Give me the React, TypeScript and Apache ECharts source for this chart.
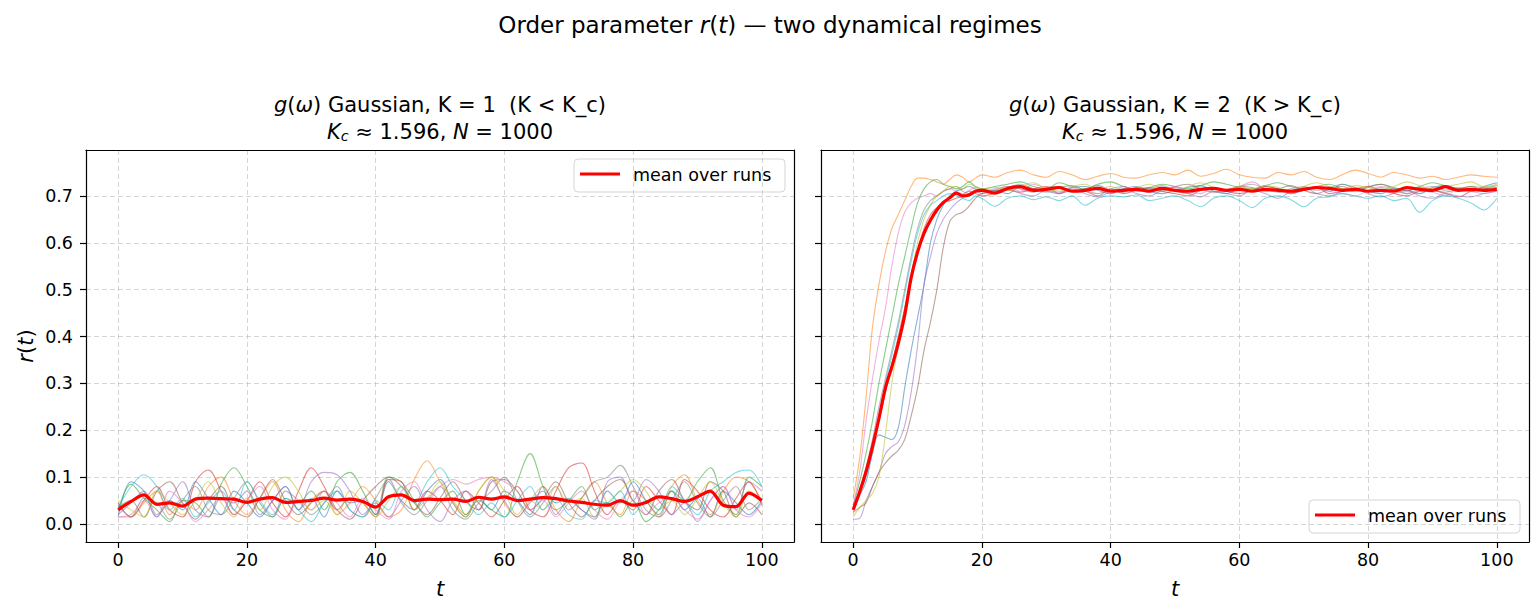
import React, { useEffect, useRef } from 'react';
import * as echarts from 'echarts';

// ---------- Data ----------
const T_LEFT = [0, 2, 4, 6, 8, 10, 12, 14, 16, 18, 20, 22, 24, 26, 28, 30, 32, 34, 36, 38, 40, 42, 44, 46, 48, 50,
  52, 54, 56, 58, 60, 62, 64, 66, 68, 70, 72, 74, 76, 78, 80, 82, 84, 86, 88, 90, 92, 94, 96, 98, 100];

const T_RIGHT = [0, 1, 2, 3, 4, 5, 6, 7, 8, 9, 10, 11, 12, 13, 14, 15, 16, 17, 18, 19, 20,
  22, 24, 26, 28, 30, 32, 34, 36, 38, 40, 42, 44, 46, 48, 50, 52, 54, 56, 58, 60,
  62, 64, 66, 68, 70, 72, 74, 76, 78, 80, 82, 84, 86, 88, 90, 92, 94, 96, 98, 100];

const RUN_COLORS = ['#1f77b4', '#ff7f0e', '#2ca02c', '#d62728', '#9467bd', '#8c564b', '#e377c2', '#7f7f7f', '#bcbd22', '#17becf'];

// K = 1 (left panel), 10 runs, t = 0..100 step 2
const L_BLUE = [0.015, 0.09, 0.07, 0.015, 0.05, 0.03, 0.09, 0.055, 0.02, 0.07,
  0.045, 0.015, 0.05, 0.08, 0.03, 0.055, 0.015, 0.07, 0.045, 0.05,
  0.02, 0.09, 0.05, 0.03, 0.07, 0.095, 0.045, 0.015, 0.055, 0.03,
  0.07, 0.05, 0.02, 0.08, 0.045, 0.055, 0.03, 0.015, 0.07, 0.045,
  0.09, 0.05, 0.02, 0.07, 0.03, 0.055, 0.015, 0.07, 0.045, 0.02, 0.05];
const L_ORANGE = [0.015, 0.015, 0.045, 0.07, 0.02, 0.05, 0.03, 0.08, 0.1, 0.05,
  0.02, 0.055, 0.09, 0.03, 0.005, 0.05, 0.07, 0.02, 0.045, 0.08,
  0.05, 0.015, 0.03, 0.095, 0.135, 0.09, 0.05, 0.02, 0.07, 0.1,
  0.045, 0.015, 0.05, 0.08, 0.03, 0.005, 0.055, 0.09, 0.045, 0.02,
  0.07, 0.05, 0.015, 0.08, 0.105, 0.05, 0.02, 0.07, 0.1, 0.09, 0.05];
const L_GREEN = [0.03, 0.085, 0.055, 0.03, 0.005, 0.05, 0.045, 0.015, 0.085, 0.12,
  0.08, 0.03, 0.015, 0.055, 0.045, 0.07, 0.03, 0.09, 0.11, 0.07,
  0.02, 0.1, 0.09, 0.05, 0.015, 0.045, 0.07, 0.02, 0.05, 0.03,
  0.015, 0.09, 0.15, 0.08, 0.03, 0.05, 0.08, 0.03, 0.045, 0.015,
  0.05, 0.005, 0.03, 0.07, 0.05, 0.09, 0.12, 0.05, 0.02, 0.1, 0.08];
const L_RED = [0.045, 0.015, 0.05, 0.08, 0.03, 0.015, 0.09, 0.115, 0.07, 0.02,
  0.05, 0.09, 0.045, 0.015, 0.07, 0.12, 0.08, 0.03, 0.055, 0.045,
  0.015, 0.095, 0.09, 0.03, 0.07, 0.05, 0.02, 0.07, 0.045, 0.015,
  0.05, 0.08, 0.03, 0.015, 0.07, 0.12, 0.13, 0.07, 0.02, 0.05,
  0.03, 0.08, 0.05, 0.02, 0.095, 0.07, 0.03, 0.015, 0.055, 0.09, 0.04];
const L_PURPLE = [0.02, 0.045, 0.07, 0.02, 0.05, 0.09, 0.03, 0.015, 0.055, 0.045,
  0.07, 0.02, 0.05, 0.08, 0.03, 0.09, 0.11, 0.105, 0.07, 0.02,
  0.045, 0.015, 0.05, 0.08, 0.03, 0.005, 0.05, 0.07, 0.03, 0.095,
  0.05, 0.015, 0.045, 0.07, 0.02, 0.05, 0.03, 0.01, 0.09, 0.1,
  0.05, 0.095, 0.07, 0.02, 0.045, 0.005, 0.05, 0.08, 0.03, 0.09, 0.07];
const L_BROWN = [0.035, 0.05, 0.015, 0.07, 0.09, 0.045, 0.01, 0.05, 0.08, 0.03,
  0.015, 0.055, 0.095, 0.05, 0.02, 0.045, 0.07, 0.03, 0.01, 0.05,
  0.08, 0.1, 0.08, 0.045, 0.02, 0.055, 0.09, 0.05, 0.03, 0.09,
  0.095, 0.07, 0.03, 0.055, 0.09, 0.045, 0.015, 0.05, 0.08, 0.095,
  0.05, 0.02, 0.07, 0.095, 0.05, 0.03, 0.09, 0.07, 0.015, 0.045, 0.02];
const L_PINK = [0.015, 0.02, 0.05, 0.015, 0.07, 0.045, 0.005, 0.03, 0.055, 0.02,
  0.05, 0.08, 0.03, 0.01, 0.05, 0.03, 0.07, 0.045, 0.015, 0.055,
  0.03, 0.01, 0.07, 0.09, 0.05, 0.08, 0.095, 0.085, 0.095, 0.1,
  0.09, 0.07, 0.03, 0.05, 0.015, 0.045, 0.07, 0.03, 0.01, 0.05,
  0.07, 0.02, 0.045, 0.055, 0.03, 0.01, 0.05, 0.08, 0.03, 0.015, 0.045];
const L_GREY = [0.04, 0.015, 0.055, 0.045, 0.01, 0.05, 0.08, 0.03, 0.02, 0.055,
  0.09, 0.045, 0.015, 0.07, 0.05, 0.02, 0.045, 0.08, 0.03, 0.015,
  0.055, 0.095, 0.045, 0.02, 0.05, 0.08, 0.03, 0.01, 0.045, 0.07,
  0.1, 0.05, 0.015, 0.045, 0.08, 0.03, 0.055, 0.09, 0.1, 0.125,
  0.08, 0.03, 0.015, 0.05, 0.09, 0.045, 0.015, 0.05, 0.08, 0.03, 0.055];
const L_OLIVE = [0.05, 0.03, 0.015, 0.07, 0.045, 0.02, 0.05, 0.09, 0.045, 0.015,
  0.055, 0.03, 0.08, 0.1, 0.07, 0.03, 0.05, 0.02, 0.07, 0.045,
  0.015, 0.05, 0.08, 0.03, 0.055, 0.09, 0.045, 0.015, 0.07, 0.1,
  0.07, 0.02, 0.05, 0.03, 0.08, 0.045, 0.055, 0.015, 0.045, 0.07,
  0.095, 0.07, 0.03, 0.05, 0.02, 0.055, 0.09, 0.045, 0.015, 0.07, 0.05];
const L_CYAN = [0.035, 0.08, 0.105, 0.08, 0.03, 0.055, 0.015, 0.045, 0.07, 0.03,
  0.09, 0.05, 0.02, 0.055, 0.03, 0.005, 0.045, 0.07, 0.03, 0.015,
  0.05, 0.03, 0.08, 0.045, 0.09, 0.12, 0.08, 0.05, 0.02, 0.045,
  0.015, 0.05, 0.08, 0.03, 0.055, 0.02, 0.01, 0.05, 0.045, 0.07,
  0.02, 0.05, 0.03, 0.08, 0.05, 0.02, 0.07, 0.09, 0.11, 0.115, 0.08];
const L_MEAN = [0.030, 0.048, 0.062, 0.042, 0.045, 0.038, 0.053, 0.055, 0.054, 0.053,
  0.046, 0.053, 0.056, 0.046, 0.048, 0.050, 0.055, 0.051, 0.053, 0.048,
  0.036, 0.058, 0.062, 0.050, 0.053, 0.052, 0.053, 0.048, 0.057, 0.053,
  0.058, 0.050, 0.053, 0.056, 0.054, 0.049, 0.046, 0.042, 0.040, 0.050,
  0.040, 0.046, 0.058, 0.054, 0.048, 0.058, 0.070, 0.040, 0.037, 0.066, 0.050];

// K = 2 (right panel), 10 runs, t = 0..20 step 1 then 22..100 step 2
const R_BLUE = [0.03, 0.06, 0.09, 0.15, 0.19, 0.185, 0.18, 0.205, 0.29, 0.37, 0.44, 0.51, 0.60, 0.65, 0.68, 0.70, 0.71, 0.715, 0.72, 0.715, 0.71,
  0.712, 0.705, 0.72, 0.715, 0.71, 0.705, 0.718, 0.72, 0.712, 0.705,
  0.715, 0.72, 0.71, 0.705, 0.712, 0.718, 0.722, 0.71, 0.705, 0.715,
  0.712, 0.72, 0.715, 0.705, 0.712, 0.718, 0.71, 0.725, 0.718, 0.71,
  0.705, 0.715, 0.712, 0.705, 0.718, 0.722, 0.715, 0.71, 0.72, 0.728];
const R_ORANGE = [0.055, 0.14, 0.27, 0.42, 0.51, 0.58, 0.63, 0.66, 0.69, 0.72, 0.738, 0.738, 0.735, 0.73, 0.725, 0.735, 0.745, 0.74, 0.73, 0.738, 0.745,
  0.74, 0.75, 0.755, 0.745, 0.74, 0.752, 0.745, 0.735, 0.742, 0.748,
  0.74, 0.738, 0.745, 0.75, 0.745, 0.755, 0.742, 0.748, 0.757, 0.745,
  0.74, 0.738, 0.75, 0.745, 0.752, 0.74, 0.735, 0.745, 0.755, 0.748,
  0.74, 0.75, 0.745, 0.738, 0.742, 0.735, 0.74, 0.745, 0.742, 0.74];
const R_GREEN = [0.04, 0.09, 0.15, 0.22, 0.30, 0.37, 0.44, 0.51, 0.57, 0.63, 0.685, 0.715, 0.73, 0.735, 0.725, 0.72, 0.715, 0.72, 0.73, 0.72, 0.715,
  0.72, 0.725, 0.73, 0.72, 0.715, 0.728, 0.72, 0.715, 0.725, 0.73,
  0.72, 0.712, 0.718, 0.725, 0.72, 0.715, 0.722, 0.73, 0.725, 0.718,
  0.715, 0.722, 0.728, 0.72, 0.715, 0.72, 0.725, 0.715, 0.71, 0.72,
  0.725, 0.718, 0.712, 0.72, 0.728, 0.722, 0.715, 0.72, 0.718, 0.722];
const R_RED = [0.035, 0.065, 0.105, 0.16, 0.22, 0.28, 0.34, 0.40, 0.46, 0.52, 0.58, 0.63, 0.66, 0.675, 0.685, 0.69, 0.695, 0.70, 0.71, 0.705, 0.70,
  0.705, 0.712, 0.708, 0.715, 0.72, 0.705, 0.712, 0.71, 0.7, 0.715,
  0.705, 0.712, 0.718, 0.71, 0.705, 0.7, 0.712, 0.718, 0.71, 0.705,
  0.712, 0.72, 0.715, 0.708, 0.712, 0.718, 0.705, 0.71, 0.715, 0.72,
  0.712, 0.705, 0.7, 0.71, 0.712, 0.705, 0.698, 0.71, 0.715, 0.718];
const R_PURPLE = [0.01, 0.012, 0.05, 0.08, 0.11, 0.15, 0.165, 0.175, 0.21, 0.28, 0.38, 0.51, 0.57, 0.62, 0.65, 0.67, 0.685, 0.695, 0.705, 0.71, 0.705,
  0.71, 0.715, 0.705, 0.7, 0.712, 0.708, 0.715, 0.705, 0.698, 0.71,
  0.715, 0.705, 0.7, 0.712, 0.718, 0.705, 0.698, 0.71, 0.705, 0.7,
  0.712, 0.705, 0.695, 0.71, 0.718, 0.705, 0.7, 0.71, 0.715, 0.705,
  0.698, 0.705, 0.712, 0.7, 0.695, 0.705, 0.7, 0.698, 0.705, 0.71];
const R_BROWN = [0.025, 0.035, 0.045, 0.08, 0.11, 0.13, 0.145, 0.157, 0.18, 0.23, 0.29, 0.37, 0.43, 0.50, 0.59, 0.645, 0.66, 0.665, 0.678, 0.695, 0.705,
  0.712, 0.72, 0.715, 0.708, 0.718, 0.72, 0.71, 0.715, 0.722, 0.712,
  0.708, 0.718, 0.715, 0.71, 0.72, 0.725, 0.715, 0.708, 0.712, 0.72,
  0.718, 0.71, 0.715, 0.722, 0.712, 0.705, 0.715, 0.72, 0.712, 0.718,
  0.725, 0.715, 0.71, 0.718, 0.712, 0.708, 0.715, 0.72, 0.712, 0.715];
const R_PINK = [0.04, 0.11, 0.22, 0.31, 0.39, 0.46, 0.55, 0.62, 0.665, 0.685, 0.695, 0.70, 0.705, 0.70, 0.71, 0.715, 0.71, 0.705, 0.712, 0.718, 0.71,
  0.715, 0.72, 0.71, 0.725, 0.715, 0.705, 0.718, 0.71, 0.715, 0.705,
  0.72, 0.712, 0.708, 0.715, 0.72, 0.71, 0.705, 0.718, 0.712, 0.72,
  0.73, 0.715, 0.71, 0.705, 0.712, 0.718, 0.71, 0.705, 0.7, 0.712,
  0.72, 0.715, 0.705, 0.71, 0.708, 0.7, 0.715, 0.71, 0.705, 0.712];
const R_GREY = [0.03, 0.07, 0.12, 0.18, 0.25, 0.31, 0.37, 0.43, 0.50, 0.57, 0.63, 0.67, 0.69, 0.70, 0.71, 0.715, 0.72, 0.71, 0.705, 0.71, 0.715,
  0.71, 0.718, 0.725, 0.715, 0.708, 0.718, 0.722, 0.712, 0.705, 0.715,
  0.72, 0.71, 0.715, 0.722, 0.712, 0.705, 0.715, 0.718, 0.712, 0.72,
  0.725, 0.715, 0.708, 0.715, 0.72, 0.712, 0.718, 0.725, 0.715, 0.71,
  0.718, 0.712, 0.705, 0.715, 0.72, 0.712, 0.718, 0.71, 0.715, 0.712];
const R_OLIVE = [0.015, 0.035, 0.05, 0.065, 0.10, 0.19, 0.30, 0.38, 0.46, 0.53, 0.60, 0.65, 0.68, 0.70, 0.71, 0.72, 0.72, 0.715, 0.725, 0.72, 0.715,
  0.718, 0.712, 0.72, 0.728, 0.715, 0.71, 0.72, 0.725, 0.715, 0.72,
  0.71, 0.718, 0.725, 0.715, 0.71, 0.72, 0.728, 0.718, 0.712, 0.72,
  0.715, 0.722, 0.718, 0.71, 0.72, 0.728, 0.72, 0.715, 0.722, 0.718,
  0.712, 0.72, 0.73, 0.722, 0.715, 0.72, 0.725, 0.73, 0.72, 0.725];
const R_CYAN = [0.04, 0.07, 0.10, 0.16, 0.23, 0.30, 0.36, 0.42, 0.49, 0.56, 0.62, 0.66, 0.68, 0.69, 0.70, 0.705, 0.70, 0.695, 0.69, 0.70, 0.695,
  0.678, 0.695, 0.7, 0.692, 0.698, 0.69, 0.7, 0.68, 0.695, 0.7,
  0.698, 0.702, 0.69, 0.695, 0.7, 0.69, 0.677, 0.695, 0.7, 0.69,
  0.675, 0.695, 0.7, 0.692, 0.677, 0.695, 0.698, 0.705, 0.7, 0.695,
  0.7, 0.69, 0.695, 0.665, 0.69, 0.7, 0.695, 0.685, 0.67, 0.695];
const R_MEAN = [0.030, 0.068, 0.112, 0.165, 0.225, 0.290, 0.335, 0.385, 0.445, 0.525, 0.580, 0.620, 0.648, 0.670, 0.686, 0.696, 0.706, 0.700, 0.702, 0.710, 0.712,
  0.706, 0.716, 0.720, 0.712, 0.714, 0.718, 0.710, 0.712, 0.716, 0.710,
  0.712, 0.714, 0.710, 0.716, 0.712, 0.710, 0.714, 0.716, 0.712, 0.714,
  0.710, 0.714, 0.712, 0.710, 0.714, 0.718, 0.716, 0.712, 0.714, 0.710,
  0.712, 0.710, 0.718, 0.714, 0.712, 0.720, 0.712, 0.714, 0.712, 0.714];

const LEFT_RUNS = [L_BLUE, L_ORANGE, L_GREEN, L_RED, L_PURPLE, L_BROWN, L_PINK, L_GREY, L_OLIVE, L_CYAN];
const RIGHT_RUNS = [R_BLUE, R_ORANGE, R_GREEN, R_RED, R_PURPLE, R_BROWN, R_PINK, R_GREY, R_OLIVE, R_CYAN];

const X_TICKS = [0, 20, 40, 60, 80, 100];
const Y_TICKS = [0, 0.1, 0.2, 0.3, 0.4, 0.5, 0.6, 0.7];

const FONT = 'DejaVu Sans';

// ---------- Layout ----------
const GRID_TOP = 150;
const GRID_H = 392;
const GRID_W = 708;
const LEFT_X = 86;
const RIGHT_X = 821;

function pairs(t: number[], v: number[]) {
  return t.map((x, i) => [x, v[i]]);
}

function buildOption() {
  const splitLine = { show: true, lineStyle: { color: 'rgba(176,176,176,0.6)', width: 0.9, type: [5, 3] as any } };
  const axisLine = { show: true, onZero: false, lineStyle: { color: '#000', width: 1.2 } };
  const tick = (vals: number[]) => ({ show: true, length: 6, inside: false, customValues: vals, lineStyle: { color: '#000', width: 1.2 } });
  const mkX = (grid: number) => ([
    {
      type: 'value', gridIndex: grid, min: -5, max: 105, position: 'bottom',
      axisLine, axisTick: tick(X_TICKS),
      axisLabel: { show: true, customValues: X_TICKS, fontSize: 17.5, color: '#000', fontFamily: FONT, margin: 9 },
      splitLine,
    },
    {
      type: 'value', gridIndex: grid, min: -5, max: 105, position: 'top',
      axisLine, axisTick: { show: false }, axisLabel: { show: false }, splitLine: { show: false },
    },
  ]);
  const mkY = (grid: number, labels: boolean) => ([
    {
      type: 'value', gridIndex: grid, min: -0.0385, max: 0.798, position: 'left',
      axisLine, axisTick: tick(Y_TICKS),
      axisLabel: {
        show: labels, customValues: Y_TICKS, fontSize: 17.5, color: '#000', fontFamily: FONT, margin: 13,
        formatter: (v: number) => v.toFixed(1),
      },
      splitLine,
    },
    {
      type: 'value', gridIndex: grid, min: -0.0385, max: 0.798, position: 'right',
      axisLine, axisTick: { show: false }, axisLabel: { show: false }, splitLine: { show: false },
    },
  ]);

  const series: any[] = [];
  LEFT_RUNS.forEach((run, i) => {
    series.push({
      type: 'line', name: 'K1 run ' + (i + 1), xAxisIndex: 0, yAxisIndex: 0,
      data: pairs(T_LEFT, run), symbol: 'none', smooth: 0.35, silent: true, z: 2,
      lineStyle: { color: RUN_COLORS[i], width: 1.1, opacity: 0.55 },
    });
  });
  series.push({
    type: 'line', name: 'mean over runs', xAxisIndex: 0, yAxisIndex: 0,
    data: pairs(T_LEFT, L_MEAN), symbol: 'none', smooth: 0.3, silent: true, z: 5,
    lineStyle: { color: '#ff0000', width: 3.2 },
  });
  RIGHT_RUNS.forEach((run, i) => {
    series.push({
      type: 'line', name: 'K2 run ' + (i + 1), xAxisIndex: 2, yAxisIndex: 2,
      data: pairs(T_RIGHT, run), symbol: 'none', smooth: 0.35, silent: true, z: 2,
      lineStyle: { color: RUN_COLORS[i], width: 1.1, opacity: 0.55 },
    });
  });
  series.push({
    type: 'line', name: 'mean over runs ', xAxisIndex: 2, yAxisIndex: 2,
    data: pairs(T_RIGHT, R_MEAN), symbol: 'none', smooth: 0.3, silent: true, z: 5,
    lineStyle: { color: '#ff0000', width: 3.2 },
  });

  const titleText = (x: number, y: number, text: string, size: number) => ({
    type: 'text', x, y, z: 100,
    style: {
      text, align: 'center', verticalAlign: 'middle', fontSize: size, fontFamily: FONT, fill: '#000',
      rich: {
        n: { fontSize: size, fontFamily: FONT, fill: '#000' },
        i: { fontSize: size, fontFamily: FONT, fontStyle: 'italic', fill: '#000' },
        sub: { fontSize: size * 0.68, fontFamily: FONT, fontStyle: 'italic', fill: '#000', verticalAlign: 'bottom', lineHeight: 14 },
      },
    },
  });
  const legend = (x: number, y: number) => ({
    type: 'group', x, y, z: 100,
    children: [
      { type: 'rect', shape: { x: 0, y: 0, width: 211, height: 33, r: 4 }, style: { fill: 'rgba(255,255,255,0.85)', stroke: '#d5d5d5', lineWidth: 1 } },
      { type: 'line', shape: { x1: 6, y1: 15, x2: 46, y2: 15 }, style: { stroke: '#ff0000', lineWidth: 3.2 } },
      { type: 'text', x: 59, y: 16, style: { text: 'mean over runs', fontSize: 17.5, fontFamily: FONT, fill: '#000', verticalAlign: 'middle', align: 'left' } },
    ],
  });

  const lc = LEFT_X + GRID_W / 2;
  const rc = RIGHT_X + GRID_W / 2;
  const NB = '\u00a0';

  return {
    animation: false,
    backgroundColor: '#ffffff',
    grid: [
      { left: LEFT_X, top: GRID_TOP, width: GRID_W, height: GRID_H, containLabel: false },
      { left: RIGHT_X, top: GRID_TOP, width: GRID_W, height: GRID_H, containLabel: false },
    ],
    xAxis: [...mkX(0), ...mkX(1)],
    yAxis: [...mkY(0, true), ...mkY(1, false)],
    series,
    graphic: [
      titleText(770, 25, '{n|Order parameter }{i|r}{n|(}{i|t}{n|) — two dynamical regimes}', 23),
      titleText(lc, 105, '{i|g}{n|(}{i|ω}{n|) Gaussian, K = 1 ' + NB + '(K < K_c)}', 21),
      titleText(lc, 132, '{i|K}{sub|c}{n| ≈ 1.596, }{i|N}{n| = 1000}', 21),
      titleText(rc, 105, '{i|g}{n|(}{i|ω}{n|) Gaussian, K = 2 ' + NB + '(K > K_c)}', 21),
      titleText(rc, 132, '{i|K}{sub|c}{n| ≈ 1.596, }{i|N}{n| = 1000}', 21),
      titleText(lc, 589, '{i|t}', 21),
      titleText(rc, 589, '{i|t}', 21),
      { ...titleText(26, 346, '{i|r}{n|(}{i|t}{n|)}', 21), rotation: Math.PI / 2 },
      legend(574, 159),
      legend(1309, 500),
    ],
  };
}

export default function App() {
  const ref = useRef<HTMLDivElement>(null);
  useEffect(() => {
    if (!ref.current) return;
    const chart = echarts.init(ref.current, null, { renderer: 'svg', width: 1540, height: 614 });
    chart.setOption(buildOption() as any);
    return () => chart.dispose();
  }, []);
  return (
    <div
      ref={ref}
      style={{ position: 'fixed', left: 0, top: 0, width: 1540, height: 614, background: '#fff' }}
    />
  );
}
